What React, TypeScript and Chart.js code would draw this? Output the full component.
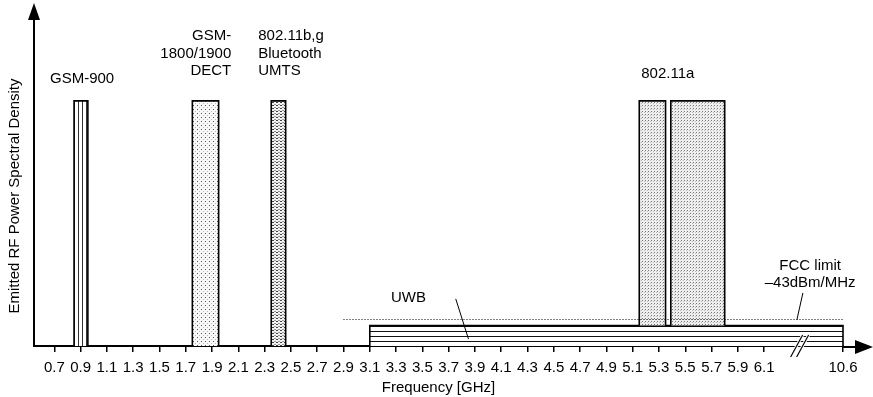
import React, { useEffect, useRef } from "react";
import { Chart, registerables } from "chart.js";

Chart.register(...registerables);

// ---------------- data ----------------
const TICK_VALUES_GHZ = [0.7, 0.9, 1.1, 1.3, 1.5, 1.7, 1.9, 2.1, 2.3, 2.5, 2.7, 2.9, 3.1, 3.3, 3.5, 3.7, 3.9, 4.1, 4.3, 4.5, 4.7, 4.9, 5.1, 5.3, 5.5, 5.7, 5.9, 6.1, 10.6];
const TICK_LABELS = ["0.7", "0.9", "1.1", "1.3", "1.5", "1.7", "1.9", "2.1", "2.3", "2.5", "2.7", "2.9", "3.1", "3.3", "3.5", "3.7", "3.9", "4.1", "4.3", "4.5", "4.7", "4.9", "5.1", "5.3", "5.5", "5.7", "5.9", "6.1", "10.6"];

const BAND_NAMES = ["GSM-900", "GSM-1800/1900 DECT", "802.11b,g Bluetooth UMTS", "802.11a (lower)", "802.11a (upper)"];
const BAND_START_GHZ = [0.85, 1.75, 2.35, 5.15, 5.39];
const BAND_END_GHZ = [0.955, 1.95, 2.46, 5.35, 5.8];
const BAND_PSD = [81.7, 81.7, 81.7, 81.7, 81.7];
const BAND_FLOOR = [0, 0, 0, 6.8, 6.8];

const UWB_START_GHZ = 3.1;
const UWB_END_GHZ = 10.6;
const UWB_PSD = 6.8;

const FCC_START_GHZ = 2.9;
const FCC_END_GHZ = 10.6;
const FCC_LIMIT = 8.83;

// broken axis: 6.2..10.6 GHz compressed into 0.5 axis units
const BREAK_AT_GHZ = 6.2;
const BREAK_END_GHZ = 10.6;
const BREAK_SPAN = 0.5;
const axisPos = (f: number) =>
  f <= BREAK_AT_GHZ ? f : BREAK_AT_GHZ + ((f - BREAK_AT_GHZ) * BREAK_SPAN) / (BREAK_END_GHZ - BREAK_AT_GHZ);

// ---------------- annotation layout (axis units) ----------------
type TextNote = { lines: string[]; x: number; y: number; align: CanvasTextAlign; step: number };
const TEXT_NOTES: TextNote[] = [
  { lines: ["GSM-900"], x: 0.911, y: 89.0, align: "center", step: 5.8 },
  { lines: ["GSM-", "1800/1900", "DECT"], x: 2.046, y: 103.3, align: "right", step: 5.8 },
  { lines: ["802.11b,g", "Bluetooth", "UMTS"], x: 2.251, y: 103.3, align: "left", step: 5.8 },
  { lines: ["802.11a"], x: 5.367, y: 90.7, align: "center", step: 5.8 },
  { lines: ["UWB"], x: 3.394, y: 16.1, align: "center", step: 5.8 },
  { lines: ["FCC limit", "\u201343dBm/MHz"], x: 6.45, y: 26.8, align: "center", step: 5.8 },
];
const LEADERS = [
  { x1: 3.754, y1: 15.7, x2: 3.851, y2: 2.3 },
  { x1: 6.395, y1: 17.7, x2: 6.349, y2: 8.7 },
];
const BREAK_MARK_AXIS = 6.37;

const FONT = '"Liberation Sans", Arial, Helvetica, sans-serif';

function makePattern(ctx: CanvasRenderingContext2D, w: number, h: number, draw: (p: CanvasRenderingContext2D) => void) {
  const c = document.createElement("canvas");
  c.width = w;
  c.height = h;
  const p = c.getContext("2d")!;
  draw(p);
  return ctx.createPattern(c, "repeat")!;
}

const decorPlugin = {
  id: "decor",
  afterDraw(chart: any) {
    const { ctx, chartArea, scales } = chart;
    const xs = scales.x;
    const ys = scales.y;
    const X = (a: number) => xs.getPixelForValue(a);
    const Y = (v: number) => ys.getPixelForValue(v);
    ctx.save();
    ctx.strokeStyle = "#000";
    ctx.fillStyle = "#000";

    // y axis with arrow
    ctx.lineWidth = 2;
    ctx.beginPath();
    ctx.moveTo(chartArea.left, chartArea.bottom + 1);
    ctx.lineTo(chartArea.left, 18);
    ctx.stroke();
    ctx.beginPath();
    ctx.moveTo(chartArea.left, 3);
    ctx.lineTo(chartArea.left - 6, 20);
    ctx.lineTo(chartArea.left + 6, 20);
    ctx.closePath();
    ctx.fill();

    // x axis extension with arrow
    ctx.beginPath();
    ctx.moveTo(chartArea.right, chartArea.bottom + 1);
    ctx.lineTo(858, chartArea.bottom + 1);
    ctx.stroke();
    ctx.beginPath();
    ctx.moveTo(873, chartArea.bottom + 1);
    ctx.lineTo(855, chartArea.bottom + 1 - 7);
    ctx.lineTo(855, chartArea.bottom + 1 + 7);
    ctx.closePath();
    ctx.fill();

    // break marks
    const bx = X(BREAK_MARK_AXIS);
    const by = chartArea.bottom;
    for (const off of [-3, 3]) {
      ctx.strokeStyle = "#fff";
      ctx.lineWidth = 3;
      ctx.beginPath();
      ctx.moveTo(bx + off - 6, by + 11);
      ctx.lineTo(bx + off + 6, by - 11);
      ctx.stroke();
    }
    ctx.strokeStyle = "#000";
    ctx.lineWidth = 1.2;
    for (const off of [-3, 3]) {
      ctx.beginPath();
      ctx.moveTo(bx + off - 6, by + 11);
      ctx.lineTo(bx + off + 6, by - 11);
      ctx.stroke();
    }

    // leader lines
    ctx.lineWidth = 1;
    for (const l of LEADERS) {
      ctx.beginPath();
      ctx.moveTo(X(l.x1), Y(l.y1));
      ctx.lineTo(X(l.x2), Y(l.y2));
      ctx.stroke();
    }

    // text labels
    ctx.font = `15px ${FONT}`;
    ctx.textBaseline = "middle";
    for (const n of TEXT_NOTES) {
      ctx.textAlign = n.align;
      n.lines.forEach((line, i) => {
        ctx.fillText(line, X(n.x), Y(n.y - i * n.step));
      });
    }
    ctx.restore();
  },
};

export default function App() {
  const ref = useRef<HTMLCanvasElement | null>(null);

  useEffect(() => {
    const canvas = ref.current!;
    const ctx = canvas.getContext("2d")!;

    const patterns = [
      // GSM-900: vertical lines
      makePattern(ctx, 4, 4, (p) => {
        p.fillStyle = "#fff";
        p.fillRect(0, 0, 4, 4);
        p.fillStyle = "#333";
        p.fillRect(2, 0, 1, 4);
      }),
      // GSM-1800: sparse dots
      makePattern(ctx, 4, 4, (p) => {
        p.fillStyle = "#f8f8f8";
        p.fillRect(0, 0, 4, 4);
        p.fillStyle = "#555";
        p.fillRect(1, 1, 1, 1);
        p.fillStyle = "#bbb";
        p.fillRect(3, 3, 1, 1);
      }),
      // Bluetooth: dashes
      makePattern(ctx, 4, 3, (p) => {
        p.fillStyle = "#f2f2f2";
        p.fillRect(0, 0, 4, 3);
        p.fillStyle = "#444";
        p.fillRect(0, 0, 2, 1);
        p.fillStyle = "#999";
        p.fillRect(2, 2, 2, 1);
      }),
      // 802.11a: dense dots
      makePattern(ctx, 3, 3, (p) => {
        p.fillStyle = "#efefef";
        p.fillRect(0, 0, 3, 3);
        p.fillStyle = "#777";
        p.fillRect(0, 0, 1, 1);
        p.fillStyle = "#bbb";
        p.fillRect(2, 1, 1, 1);
      }),
    ];
    const uwbPattern = makePattern(ctx, 5, 5, (p) => {
      p.fillStyle = "#fff";
      p.fillRect(0, 0, 5, 5);
      p.fillStyle = "#111";
      p.fillRect(0, 1, 5, 1);
    });
    const patternFor = [patterns[0], patterns[1], patterns[2], patterns[3], patterns[3]];

    const rect = (x0: number, x1: number, top: number, base: number) => [
      { x: axisPos(x0), y: base },
      { x: axisPos(x0), y: top },
      { x: axisPos(x1), y: top },
      { x: axisPos(x1), y: base },
    ];

    const datasets: any[] = [];
    datasets.push({
      label: "UWB",
      data: rect(UWB_START_GHZ, UWB_END_GHZ, UWB_PSD, 0),
      borderColor: "#000",
      borderWidth: 1.6,
      backgroundColor: uwbPattern,
      fill: { value: 0 },
      order: 3,
    });
    BAND_NAMES.forEach((name, i) => {
      datasets.push({
        label: name,
        data: rect(BAND_START_GHZ[i], BAND_END_GHZ[i], BAND_PSD[i], BAND_FLOOR[i]),
        borderColor: "#000",
        borderWidth: 1.6,
        backgroundColor: patternFor[i],
        fill: { value: BAND_FLOOR[i] },
        order: 2,
      });
    });
    datasets.push({
      label: "FCC limit",
      data: [
        { x: axisPos(FCC_START_GHZ), y: FCC_LIMIT },
        { x: axisPos(FCC_END_GHZ), y: FCC_LIMIT },
      ],
      borderColor: "#000",
      borderWidth: 1,
      borderDash: [1, 2],
      fill: false,
      order: 1,
    });
    datasets.forEach((d) => {
      d.pointRadius = 0;
      d.tension = 0;
      d.clip = false;
      d.borderJoinStyle = "miter";
      d.borderCapStyle = "butt";
    });

    Chart.defaults.font.family = FONT;
    Chart.defaults.font.size = 15;
    Chart.defaults.color = "#000";

    const chart = new Chart(canvas, {
      type: "line",
      data: { datasets },
      options: {
        animation: false,
        responsive: false,
        devicePixelRatio: 1,
        layout: { padding: { top: 46, right: 30, left: 0, bottom: 0 } },
        plugins: { legend: { display: false }, tooltip: { enabled: false } },
        scales: {
          x: {
            type: "linear",
            min: 0.5453,
            max: axisPos(10.6),
            afterFit: (s: any) => {
              s.height = 51;
            },
            afterBuildTicks: (s: any) => {
              s.ticks = TICK_VALUES_GHZ.map((v) => ({ value: axisPos(v) }));
            },
            ticks: {
              autoSkip: false,
              maxRotation: 0,
              minRotation: 0,
              padding: 7,
              color: "#000",
              font: { size: 15, family: FONT },
              callback: (_v: any, i: number) => TICK_LABELS[i],
            },
            grid: {
              display: true,
              drawOnChartArea: false,
              drawTicks: true,
              tickLength: 6,
              color: "#000",
              lineWidth: 1.5,
            },
            border: { display: true, color: "#000", width: 2 },
            title: {
              display: true,
              text: "Frequency [GHz]",
              color: "#000",
              font: { size: 15, family: FONT },
              padding: { top: 0, bottom: 0 },
            },
          },
          y: {
            type: "linear",
            min: 0,
            max: 100,
            afterFit: (s: any) => {
              s.width = 34;
            },
            ticks: { display: false },
            grid: { display: false },
            border: { display: false },
            title: {
              display: true,
              text: "Emitted RF Power Spectral Density",
              color: "#000",
              font: { size: 15, family: FONT },
              padding: { top: 6, bottom: 0 },
            },
          },
        },
      },
      plugins: [decorPlugin],
    });
    return () => chart.destroy();
  }, []);

  return (
    <div style={{ position: "fixed", left: 0, top: 0, width: 873, height: 397, background: "#fff" }}>
      <canvas ref={ref} width={873} height={397} style={{ display: "block" }} />
    </div>
  );
}
